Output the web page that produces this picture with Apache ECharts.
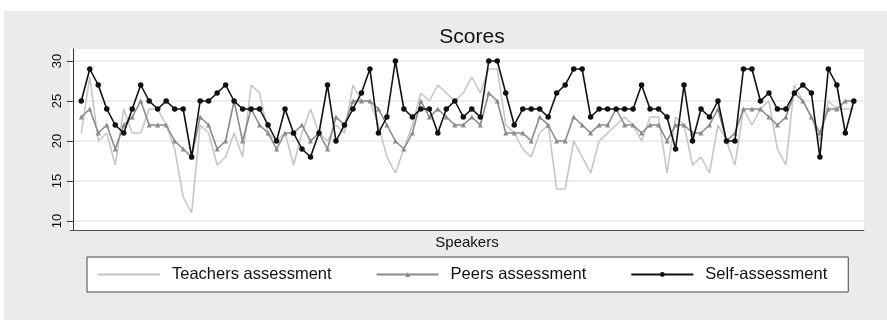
<!DOCTYPE html>
<html><head><meta charset="utf-8">
<script src="https://cdn.jsdelivr.net/npm/echarts@6/dist/echarts.min.js"></script>
<style>html,body{margin:0;padding:0;background:#fff}#c{width:887px;height:320px}</style>
</head><body><div id="c"></div>
<script>
const speakers = Array.from({length: 92}, (_, i) => i + 1);
const teachers = [21,28,20,21,17,24,21,21,24,24,22,19,13,11,22,
21,17,18,21,18,27,26,21,20,21,17,21,24,21,20,22,
21,27,25,25,22,18,16,19,22,26,25,27,26,25,26,28,
26,29,29,22,21,19,18,21,22,14,14,20,18,16,20,21,
22,23,22,20,23,23,16,23,22,17,18,16,22,20,17,
24,22,24,25,19,17,27,25,23,20,25,24,24,24];
const peers = [23,24,21,22,19,22,23,25,22,22,22,20,19,18,23,
22,19,20,25,20,24,22,21,19,21,21,22,20,21,19,23,
22,25,25,25,24,22,20,19,21,25,23,24,23,22,22,23,
22,26,25,21,21,21,20,23,22,20,20,23,22,21,22,22,
24,22,22,21,22,22,20,22,22,21,21,22,24,20,21,
24,24,24,23,22,23,26,25,23,21,24,24,25,25];
const selfs = [25,29,27,24,22,21,24,27,25,24,25,24,24,18,25,
25,26,27,25,24,24,24,22,20,24,21,19,18,21,27,20,
22,24,26,29,21,23,30,24,23,24,24,21,24,25,23,24,
23,30,30,26,22,24,24,24,23,26,27,29,29,23,24,24,
24,24,24,27,24,24,23,19,27,20,24,23,25,20,20,
29,29,25,26,24,24,26,27,26,18,29,27,21,25];
const yTicks = [10, 15, 20, 25, 30];
const names = ['Teachers assessment', 'Peers assessment', 'Self-assessment'];

const pair = arr => arr.map((v, i) => [speakers[i], v]);
const FONT = 'Liberation Sans, Arial, sans-serif';
const chart = echarts.init(document.getElementById('c'), null, {renderer: 'canvas'});
chart.setOption({
  backgroundColor: '#fff',
  animation: false,
  graphic: [{type: 'rect', left: 4, top: 11, shape: {width: 883, height: 309}, style: {fill: '#ebebeb'}, z: -10, silent: true}],
  title: {text: 'Scores', left: 467, textAlign: 'center', top: 22, textStyle: {fontFamily: FONT, fontSize: 21, fontWeight: 'normal', color: '#111'}},
  grid: {left: 70, right: 23, top: 49, bottom: 90, show: true, backgroundColor: '#fff', borderWidth: 0},
  xAxis: {type: 'value', min: -0.33, max: 93.2, name: 'Speakers', nameLocation: 'middle', nameGap: 5,
    nameTextStyle: {fontFamily: FONT, fontSize: 15, color: '#111', verticalAlign: 'top'},
    axisLine: {show: true, onZero: false, lineStyle: {color: '#555', width: 1}},
    axisTick: {show: false}, axisLabel: {show: false}, splitLine: {show: false}},
  yAxis: {type: 'value', min: 8.875, max: 31.5, interval: 5,
    axisLine: {show: true, lineStyle: {color: '#333', width: 1}},
    axisTick: {show: true, length: 6, lineStyle: {color: '#333'}, customValues: yTicks},
    axisLabel: {rotate: 90, fontFamily: FONT, fontSize: 13, color: '#111', margin: 6, customValues: yTicks},
    splitLine: {show: true, lineStyle: {color: '#e8e8e8', width: 1.5}, customValues: yTicks}},
  legend: {data: [{name: names[0], itemStyle: {opacity: 0}}, {name: names[1]}, {name: names[2]}],
    left: 87, top: 257, orient: 'horizontal',
    backgroundColor: '#fff', borderColor: '#444', borderWidth: 1, padding: [9, 21, 9, 10],
    itemWidth: 62, itemHeight: 6, itemGap: 44,
    textStyle: {fontFamily: FONT, fontSize: 16.5, color: '#111', padding: [0, 0, 0, 7]}},
  series: [
    {name: names[0], type: 'line', data: pair(teachers), symbol: 'none', lineStyle: {color: '#c6c6c6', width: 1.6}, itemStyle: {color: '#c6c6c6'}, z: 1},
    {name: names[1], type: 'line', data: pair(peers), symbol: 'triangle', symbolSize: 5, lineStyle: {color: '#8a8a8a', width: 1.6}, itemStyle: {color: '#8a8a8a'}, z: 2},
    {name: names[2], type: 'line', data: pair(selfs), symbol: 'circle', symbolSize: 5.5, lineStyle: {color: '#111', width: 1.6}, itemStyle: {color: '#111'}, z: 3}
  ]
});
</script></body></html>
